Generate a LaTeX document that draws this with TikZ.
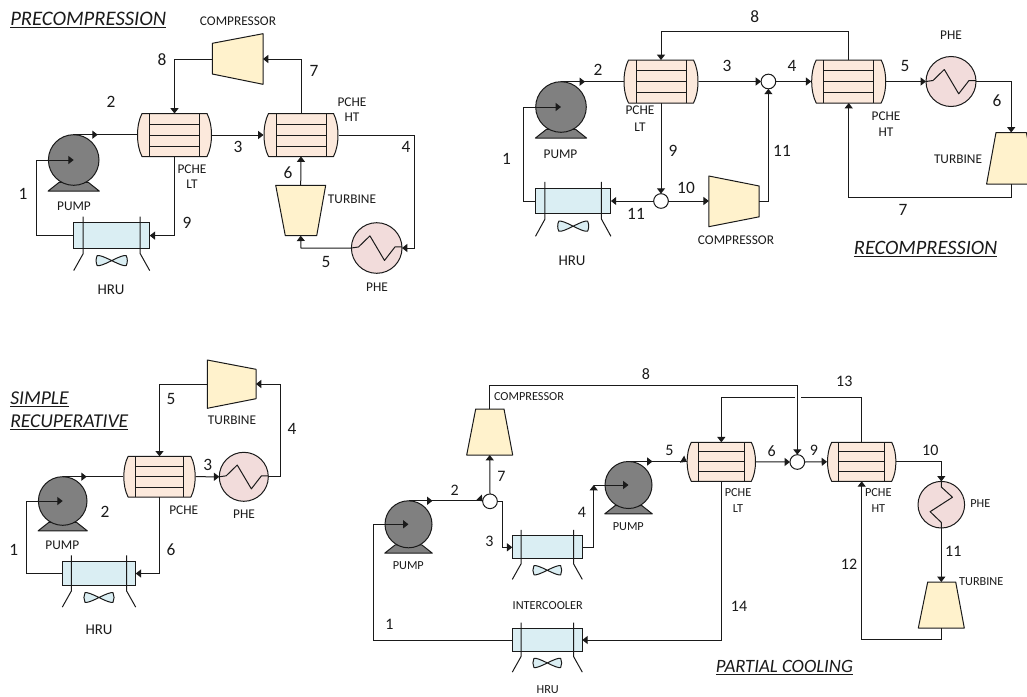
\documentclass[tikz,border=0pt]{standalone}
\usepackage{fontspec}
\setmainfont{Carlito}
\usetikzlibrary{arrows.meta,decorations.markings}
\definecolor{hxfill}{HTML}{FCE9DC}
\definecolor{hrufill}{HTML}{DAEEF3}
\definecolor{phefill}{HTML}{F2DCDB}
\definecolor{machfill}{HTML}{FFF2CC}
\definecolor{pumpfill}{HTML}{808080}
\definecolor{ink}{HTML}{1A1A1A}
\tikzset{
  eq/.style={draw=ink,line width=0.75pt,line join=round},
  box/.style={inner sep=0pt,outer sep=0pt,draw=none},
  conn/.style={draw=ink,line width=0.75pt},
  arr/.style={conn,-{Triangle[length=4pt,width=6pt]}},
  pumpout/.style={conn,postaction={decorate},decoration={markings,mark=at position 18pt with {\arrow{Triangle[length=4pt,width=6pt]}}}},
  num/.style={font=\fontsize{13}{13}\selectfont,text=ink,inner sep=0pt},
  numb/.style={font=\fontsize{12}{12}\selectfont,text=ink,inner sep=0pt},
  sm/.style={font=\fontsize{10}{10}\selectfont,text=ink,inner sep=0pt},
  smb/.style={font=\fontsize{9.2}{9.2}\selectfont,text=ink,inner sep=0pt},
  big/.style={font=\fontsize{11.2}{11.2}\selectfont,text=ink,inner sep=0pt},
  ttl/.style={font=\fontsize{#1}{#1}\selectfont\itshape,text=ink,inner sep=0pt,anchor=base west},
}
\newcounter{lbc}
\newcommand\lab[4]{\stepcounter{lbc}\node[#1] (lb\thelbc) at (#2,#3) {#4};}
% name, cx, cy, w, h
\newcommand\pche[5]{%
  \node[box,minimum width=#4*0.75pt,minimum height=#5*0.75pt] (#1) at (#2,#3) {};
  \begin{scope}[shift={(#2,#3)},xscale=#4/75,yscale=#5/43]
    \draw[eq,fill=hxfill] (-32.5,-21.5) -- (32.5,-21.5)
      .. controls (38.5,-10) and (38.5,10) .. (32.5,21.5) -- (-32.5,21.5)
      .. controls (-38.5,10) and (-38.5,-10) .. (-32.5,-21.5) -- cycle;
    \draw[eq] (-25,-21.5) -- (-25,21.5) (25,-21.5) -- (25,21.5)
      (-25,-11) -- (25,-11) (-25,0) -- (25,0) (-25,11) -- (25,11);
  \end{scope}}
% name, cx, cy, r
\newcommand\pumpunit[4]{%
  \begin{scope}[shift={(#2,#3)},scale=#4/25]
    \draw[eq,fill=pumpfill] (-25.3,30.7) -- (-14.3,22) -- (14.3,22) -- (25.3,30.7) -- cycle;
  \end{scope}
  \node[box,circle,draw=ink,line width=0.75pt,fill=pumpfill,minimum size=2*#4*0.75pt] (#1) at (#2,#3) {};}
% name, cx, cy, w, h
\newcommand\hru[5]{%
  \node[box,draw=ink,line width=0.75pt,fill=hrufill,minimum width=#4*0.75pt,minimum height=#5*0.75pt] (#1) at (#2,#3) {};
  \begin{scope}[shift={(#2,#3)},xscale=#4/76,yscale=#5/25.4]
    \draw[eq] (-28.5,-19) -- (-28.5,18) -- (-38,35) (28.5,-19) -- (28.5,18) -- (38,35);
    \draw[eq,fill=hrufill] (0,25) .. controls (-8,21) and (-12,19.5) .. (-14.5,20)
      .. controls (-16,23) and (-16,27) .. (-14.5,30) .. controls (-12,30.5) and (-8,29) .. (0,25)
      .. controls (8,21) and (12,19.5) .. (14.5,20) .. controls (16,23) and (16,27) .. (14.5,30)
      .. controls (12,30.5) and (8,29) .. (0,25) -- cycle;
  \end{scope}}
% name, cx, cy, r
\newcommand\phe[4]{%
  \node[box,circle,draw=ink,line width=0.75pt,fill=phefill,minimum size=2*#4*0.75pt] (#1) at (#2,#3) {};
  \begin{scope}[shift={(#2,#3)},scale=#4/25]
    \draw[eq] (-25,0) -- (-18,-1) -- (-6.7,-12) -- (7.7,12.3) -- (18,-1) -- (25,-1);
  \end{scope}}
\newcommand\phev[4]{%
  \node[box,circle,draw=ink,line width=0.75pt,fill=phefill,minimum size=2*#4*0.75pt] (#1) at (#2,#3) {};
  \begin{scope}[shift={(#2,#3)},scale=#4/25]
    \draw[eq] (0,-25) -- (0,-19) -- (12,-8) -- (-12,7.5) -- (0,19) -- (0,25);
  \end{scope}}
% name, cx, cy, w, h, corner list
\newcommand\machine[6]{%
  \node[box,minimum width=#4*0.75pt,minimum height=#5*0.75pt] (#1) at (#2,#3) {};
  \draw[eq,fill=machfill] #6 -- cycle;}
\newcommand\mixer[3]{\node[box,circle,draw=ink,line width=0.75pt,fill=white,minimum size=11pt] (#1) at (#2,#3) {};}
\begin{document}
\begin{tikzpicture}[x=0.75pt,y=-0.75pt]
\useasboundingbox (0,0) rectangle (1027,696);
\begin{scope}
\clip (0,0) rectangle (1027,696);

%% PRECOMPRESSION
\node[ttl=15.5] (tA) at (10,25) {\underline{PRECOMPRESSION}};
\pche{aL}{174.5}{135}{75}{43}
\pche{aH}{301}{135}{75}{43}
\pumpunit{aP}{73.7}{160}{25.3}
\hru{aR}{111.7}{235.6}{76}{25.4}
\phe{aE}{376.7}{248}{25.3}
\machine{aC}{237.6}{59}{50.7}{50.6}{(212.3,43.3) -- (263,33.7) -- (263,84.3) -- (212.3,74)}
\machine{aT}{300.7}{210.5}{50}{50.4}{(275.7,185.3) -- (325.7,185.3) -- (316.7,235.7) -- (285.3,235.7)}
\coordinate (a1) at (36,160);
\coordinate (a2) at (414.5,135);
\coordinate (a3) at (301,248);
\draw[pumpout] (aP.north) -- (aP.north -| aL.west);
\draw[arr] (aL.east) -- (aH.west);
\draw[arr] (aC.west) -| (aL.north);
\draw[arr] (aH.north) |- (aC.east);
\draw[arr] (aH.east) -- (a2) |- (aE.east);
\draw[arr] (aE.west) -- (a3) -- (aT.south);
\draw[arr] (aT.north) -- (aH.south);
\draw[arr] (aL.south) |- (aR.east);
\draw[arr] (aR.west) -| (a1) -- (aP.center);
\lab{sm}{238}{21}{COMPRESSOR}
\lab{num}{162}{60}{8}
\lab{num}{314}{71}{7}
\lab{num}{111}{102}{2}
\lab{sm}{352}{102}{PCHE}
\lab{sm}{352}{117}{HT}
\lab{num}{238}{147}{3}
\lab{num}{406}{147}{4}
\lab{num}{288}{173}{6}
\lab{sm}{352}{199}{TURBINE}
\lab{sm}{192}{169}{PCHE}
\lab{sm}{192}{184}{LT}
\lab{num}{23}{194}{1}
\lab{sm}{74}{206}{PUMP}
\lab{num}{187}{223}{9}
\lab{num}{326}{262}{5}
\lab{big}{111}{290}{HRU}
\lab{sm}{377}{287}{PHE}

%% RECOMPRESSION
\node[ttl=15.3] (tB) at (853.7,254.4) {\underline{RECOMPRESSION}};
\pche{bL}{661}{81.5}{75}{43}
\pche{bH}{848.7}{81.5}{75}{43}
\pumpunit{bP}{561}{107}{25.3}
\hru{bR}{573.2}{201}{75.4}{25.6}
\phe{bE}{951}{81.5}{25}
\mixer{bM}{768.4}{81.5}
\mixer{bN}{661}{201}
\machine{bC}{734}{201}{50.4}{50.7}{(708.8,176) -- (759.2,186) -- (759.2,216.8) -- (708.8,226.7)}
\machine{bT}{1011.2}{158.2}{49.4}{51.5}{(996,132.5) -- (1026.4,132.5) -- (1036,184) -- (986.6,184)}
\coordinate (b1) at (523,107);
\coordinate (b2) at (848.7,31.5);
\coordinate (b3) at (661,31.5);
\coordinate (b4) at (1011.2,81.5);
\coordinate (b5) at (1011.2,197);
\coordinate (b6) at (848.7,197);
\coordinate (b7) at (768.4,201);
\draw[pumpout] (bP.north) -- (bP.north -| bL.west);
\draw[arr] (bL.east) -- (bM.west);
\draw[arr] (bM.east) -- (bH.west);
\draw[arr] (bH.east) -- (bE.west);
\draw[arr] (bH.north) -- (b2) -- (b3) -- (bL.north);
\draw[arr] (bE.east) -- (b4) -- (bT.north);
\draw[arr] (bT.south) -- (b5) -- (b6) -- (bH.south);
\draw[arr] (bL.south) -- (bN.north);
\draw[arr] (bN.west) -- (bR.east);
\draw[arr] (bN.east) -- (bC.west);
\draw[arr] (bC.east) -- (b7) -- (bM.south);
\draw[arr] (bR.west) -| (b1) -- (bP.center);
\lab{num}{754.7}{17}{8}
\lab{sm}{951}{35.6}{PHE}
\lab{num}{598}{69.5}{2}
\lab{num}{727}{66.4}{3}
\lab{num}{792}{66.4}{4}
\lab{num}{905}{66.4}{5}
\lab{num}{997}{101}{6}
\lab{sm}{640}{110.6}{PCHE}
\lab{sm}{640}{127.4}{LT}
\lab{sm}{886}{116}{PCHE}
\lab{sm}{886}{132}{HT}
\lab{sm}{560.5}{154}{PUMP}
\lab{num}{506.4}{159}{1}
\lab{num}{673}{150.7}{9}
\lab{num}{782}{150.7}{11}
\lab{sm}{958}{159}{TURBINE}
\lab{num}{686}{188}{10}
\lab{num}{636}{214}{11}
\lab{sm}{736}{240}{COMPRESSOR}
\lab{num}{903}{210}{7}
\lab{big}{572}{261}{HRU}

%% SIMPLE RECUPERATIVE
\node[ttl=14.7] (tC) at (10,404) {\underline{SIMPLE}};
\node[ttl=14.7] (tD) at (10,427.3) {\underline{RECUPERATIVE}};
\pche{cL}{159.5}{476.7}{72.4}{40.7}
\pumpunit{cP}{62.7}{501}{24.3}
\hru{cR}{99}{573.5}{73.4}{24.4}
\phe{cE}{243.8}{476.8}{24.5}
\machine{cT}{231.6}{384}{48.7}{48.3}{(207.3,360) -- (256,369.3) -- (256,398.7) -- (207.3,408.3)}
\coordinate (c1) at (26.3,501);
\coordinate (c2) at (280,476.8);
\draw[pumpout] (cP.north) -- (cP.north -| cL.west);
\draw[arr] (cL.east) -- (cE.west);
\draw[arr] (cT.west) -| (cL.north);
\draw[arr] (cE.east) -- (c2) |- (cT.east);
\draw[arr] (cL.south) |- (cR.east);
\draw[arr] (cR.west) -| (c1) -- (cP.center);
\lab{sm}{232}{420.7}{TURBINE}
\lab{num}{292}{428.7}{4}
\lab{num}{171}{398.7}{5}
\lab{num}{207.7}{465}{3}
\lab{sm}{183.7}{510}{PCHE}
\lab{sm}{244}{514}{PHE}
\lab{num}{105}{512.3}{2}
\lab{sm}{62.3}{545.3}{PUMP}
\lab{num}{13.7}{550}{1}
\lab{num}{171}{550}{6}
\lab{big}{99}{630}{HRU}

%% PARTIAL COOLING
\node[ttl=14.1] (tE) at (715.7,672.7) {\underline{PARTIAL COOLING}};
\pche{dL}{721.3}{461.8}{69.3}{39}
\pche{dH}{861.7}{461.8}{69.3}{39}
\pumpunit{dP}{408.5}{524.3}{23.5}
\pumpunit{dQ}{628.5}{485}{23.5}
\hru{dI}{547.3}{547.3}{70}{23.3}
\hru{dR}{547.3}{640}{70}{23.3}
\phev{dE}{941.3}{504.7}{23.3}
\mixer{dM}{490}{501.3}
\mixer{dN}{797.3}{462}
\machine{dC}{489.7}{432}{46}{46}{(475.7,409) -- (504,409) -- (512.7,455) -- (466.7,455)}
\machine{dT}{941.3}{605}{46}{46}{(927.7,582) -- (955.7,582) -- (964.3,628) -- (918.3,628)}
\coordinate (d1) at (373.7,524.3);
\coordinate (d2) at (502.7,501.3);
\coordinate (d3) at (593.7,485);
\coordinate (d4) at (489.7,385.7);
\coordinate (d5) at (797.3,385.7);
\coordinate (d6) at (861.7,397.3);
\coordinate (d7) at (721.3,397.3);
\coordinate (d8) at (941.3,461.8);
\coordinate (d9) at (941.3,639.7);
\coordinate (d10) at (861.7,639.7);
\coordinate (d11) at (795,397.3);
\coordinate (d12) at (801,397.3);
\draw[pumpout] (dP.north) -- (dP.north -| dM.west);
\draw[arr] (dP.north -| dM.west) ++(-0.5,0) -- (dM.west);
\draw[arr] (dM.north) -- (dC.south);
\draw[arr] (dM.east) -- (d2) |- (dI.west);
\draw[arr] (dI.east) -| (d3);
\draw[arr] (d3) -- (dQ.center);
\draw[pumpout] (dQ.north) -- (dQ.north -| dL.west);
\draw[arr] (dQ.north -| dL.west) ++(-0.5,0) -- (dL.west);
\draw[arr] (dL.east) -- (dN.west);
\draw[arr] (dN.east) -- (dH.west);
\draw[arr] (dH.north) -- (d6) -- (d7) -- (dL.north);
\draw[white,line width=2pt] (d11) -- (d12);
\draw[arr] (dC.north) -- (d4) -- (d5) -- (dN.north);
\draw[arr] (dH.east) -- (d8) -- (dE.north);
\draw[arr] (dE.south) -- (dT.north);
\draw[arr] (dT.south) -- (d9) -- (d10) -- (dH.south);
\draw[arr] (dL.south) |- (dR.east);
\draw[arr] (dR.west) -| (d1) -- (dP.center);
\lab{numb}{646}{374}{8}
\lab{smb}{529}{397}{COMPRESSOR}
\lab{numb}{844.3}{381.7}{13}
\lab{numb}{501.3}{476.7}{7}
\lab{numb}{669.3}{450.7}{5}
\lab{numb}{454.7}{490}{2}
\lab{numb}{582}{512.7}{4}
\lab{numb}{489.3}{541.7}{3}
\lab{smb}{408.3}{566}{PUMP}
\lab{smb}{628.3}{527}{PUMP}
\lab{smb}{547.7}{606}{INTERCOOLER}
\lab{numb}{389.3}{624}{1}
\lab{smb}{547.7}{689.5}{HRU}
\lab{numb}{771.7}{450.7}{6}
\lab{numb}{814}{450.7}{9}
\lab{numb}{930.3}{450.7}{10}
\lab{smb}{738}{493}{PCHE}
\lab{smb}{738}{508.3}{LT}
\lab{smb}{878.3}{493}{PCHE}
\lab{smb}{878.3}{508.3}{HT}
\lab{smb}{980.3}{504}{PHE}
\lab{numb}{953.3}{551}{11}
\lab{numb}{849}{564}{12}
\lab{smb}{981.3}{582}{TURBINE}
\lab{numb}{739}{606}{14}
\end{scope}
\end{tikzpicture}
\end{document}
